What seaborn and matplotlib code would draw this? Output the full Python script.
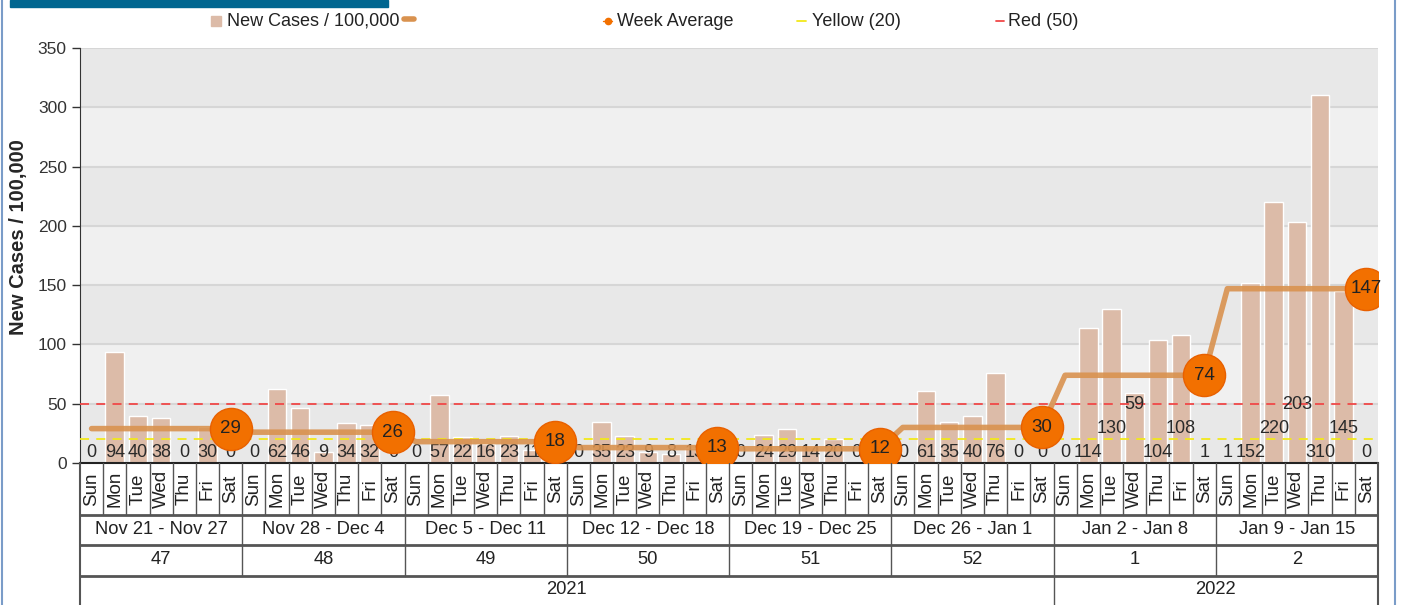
import numpy as np
import pandas as pd
import matplotlib.pyplot as plt
import seaborn as sns
from matplotlib.lines import Line2D
from matplotlib.patches import Rectangle

# Data
days = ['Sun', 'Mon', 'Tue', 'Wed', 'Thu', 'Fri', 'Sat']
cases = [0, 94, 40, 38, 0, 30, 0,
         0, 62, 46, 9, 34, 32, 0,
         0, 57, 22, 16, 23, 11, 0,
         0, 35, 23, 9, 8, 13, 0,
         0, 24, 29, 14, 20, 0, 0,
         0, 61, 35, 40, 76, 0, 0,
         0, 114, 130, 59, 104, 108, 1,
         1, 152, 220, 203, 310, 145, 0]
week_avg = [29, 26, 18, 13, 12, 30, 74, 147]
week_ranges = ['Nov 21 - Nov 27', 'Nov 28 - Dec 4', 'Dec 5 - Dec 11', 'Dec 12 - Dec 18',
               'Dec 19 - Dec 25', 'Dec 26 - Jan 1', 'Jan 2 - Jan 8', 'Jan 9 - Jan 15']
week_nums = ['47', '48', '49', '50', '51', '52', '1', '2']
years = ['2021', '2022']
weeks_per_year = [6, 2]
yellow_level = 20
red_level = 50

W, H = 1405, 605
n = len(cases)
df = pd.DataFrame({'pos': np.arange(n), 'cases': cases,
                   'avg': np.repeat(week_avg, 7)})

sns.set_style('white')
plt.rcParams['font.family'] = ['Liberation Sans', 'DejaVu Sans']

fig = plt.figure(figsize=(W / 100, H / 100), dpi=100)
ax = fig.add_axes([80 / W, (H - 463) / H, 1298 / W, 415 / H])

# alternating background bands + grid
for i, lo in enumerate(range(0, 350, 50)):
    ax.axhspan(lo, lo + 50, color='#e8e8e8' if i % 2 == 0 else '#f0f0f0', zorder=0, lw=0)
for y in range(50, 351, 50):
    ax.axhline(y, color='#d6d6d6', lw=1.5, zorder=1)

sns.barplot(data=df, x='pos', y='cases', color='#dcbba8', saturation=1,
            width=0.8, ax=ax, zorder=2)

ax.axhline(yellow_level, color='#f2e81a', lw=1.3, ls=(0, (5, 4)), zorder=3)
ax.axhline(red_level, color='#f04848', lw=1.3, ls=(0, (5, 4)), zorder=3)

# bar value labels, staggered when neighbours collide
char_w = 0.43
level = 0
prev_right = -99
for i, v in enumerate(cases):
    s = str(v)
    half = len(s) * char_w / 2
    if i - half < prev_right:
        level = (level + 1) % 3
    else:
        level = 0
    prev_right = i + half
    ax.text(i, 9 + 20 * level, s, ha='center', va='center', fontsize=13,
            color='#2a2a2a', zorder=4)

sns.lineplot(data=df, x='pos', y='avg', color='#d9924f', lw=4, alpha=0.9,
             ax=ax, zorder=5)

sat_pos = np.arange(6, n, 7)
ax.scatter(sat_pos, week_avg, s=920, color='#f27000', edgecolor='#e86000',
           lw=1, zorder=6)
for x, v in zip(sat_pos, week_avg):
    ax.text(x, v, str(v), ha='center', va='center', fontsize=13.5,
            color='#222222', zorder=7)

ax.set_xlim(-0.5, n - 0.5)
ax.set_ylim(0, 350)
ax.set_yticks(range(0, 351, 50))
ax.set_xticks([])
ax.set_xlabel('')
ax.set_ylabel('New Cases / 100,000', fontsize=14.5, fontweight='bold')
ax.yaxis.set_label_coords(-0.04, 0.545)
ax.tick_params(axis='y', labelsize=12.5, length=6, width=1, colors='#333333',
               left=True, direction='out')
for side in ['top', 'right']:
    ax.spines[side].set_visible(False)
ax.spines['left'].set_color('#333333')
ax.spines['bottom'].set_color('#222222')
ax.spines['bottom'].set_linewidth(1.5)

# table under the axis, drawn in pixel rows
tax = fig.add_axes([80 / W, 0, 1298 / W, 142 / H])
tax.set_xlim(-0.5, n - 0.5)
tax.set_ylim(H, 463)
tax.axis('off')
lc = '#555555'
for i in range(n):
    tax.text(i, 489, days[i % 7], rotation=90, ha='center', va='center',
             fontsize=13.5, color='#222222')
    if i < n - 1:
        tax.plot([i + 0.5, i + 0.5], [463, 515], color=lc, lw=1)
for y in [515, 545, 576]:
    tax.plot([-0.5, n - 0.5], [y, y], color=lc, lw=2)
for k in range(len(week_ranges)):
    c = 7 * k + 3
    tax.text(c, 530, week_ranges[k], ha='center', va='center', fontsize=13.2, color='#222222')
    tax.text(c, 560, week_nums[k], ha='center', va='center', fontsize=13.2, color='#222222')
    if k > 0:
        tax.plot([7 * k - 0.5] * 2, [515, 576], color=lc, lw=1)
start = 0
for yr, nw in zip(years, weeks_per_year):
    end = start + 7 * nw
    tax.text((start + end - 1) / 2, 590, yr, ha='center', va='center', fontsize=13.2, color='#222222')
    if start > 0:
        tax.plot([start - 0.5] * 2, [576, H], color=lc, lw=1)
    start = end
for x in [-0.5, n - 0.5]:
    tax.plot([x, x], [463, H], color=lc, lw=1.5, clip_on=False)

# legend drawn along the top
ly = 1 - 21 / H
fig.patches.append(Rectangle((211 / W, ly - 5 / H), 10 / W, 10 / H, color='#dcbba8',
                             transform=fig.transFigure))
fig.text(227 / W, ly, 'New Cases / 100,000', fontsize=13, va='center', color='#222222')
fig.add_artist(Line2D([404 / W, 414 / W], [ly + 2 / H] * 2, color='#d9924f', lw=4,
                      transform=fig.transFigure))
fig.add_artist(Line2D([603 / W, 612 / W], [ly] * 2, color='#f27000', lw=1,
                      transform=fig.transFigure))
fig.add_artist(Line2D([607.5 / W], [ly], color='#f27000', marker='o', ms=4.5,
                      transform=fig.transFigure))
fig.text(617 / W, ly, 'Week Average', fontsize=13, va='center', color='#222222')
fig.add_artist(Line2D([797 / W, 806 / W], [ly] * 2, color='#f2e81a', lw=1.3,
                      transform=fig.transFigure))
fig.text(812 / W, ly, 'Yellow (20)', fontsize=13, va='center', color='#222222')
fig.add_artist(Line2D([996 / W, 1004 / W], [ly] * 2, color='#f04848', lw=1.3,
                      transform=fig.transFigure))
fig.text(1008 / W, ly, 'Red (50)', fontsize=13, va='center', color='#222222')

# page frame and cut-off title banner
fig.patches.append(Rectangle((10 / W, 1 - 7 / H), 378 / W, 7 / H, color='#006690',
                             transform=fig.transFigure))
for x in [2, 1395]:
    fig.add_artist(Line2D([x / W] * 2, [0, 1], color='#7a9cc8', lw=1.5,
                          transform=fig.transFigure))

fig.savefig('out.png', dpi=100)
